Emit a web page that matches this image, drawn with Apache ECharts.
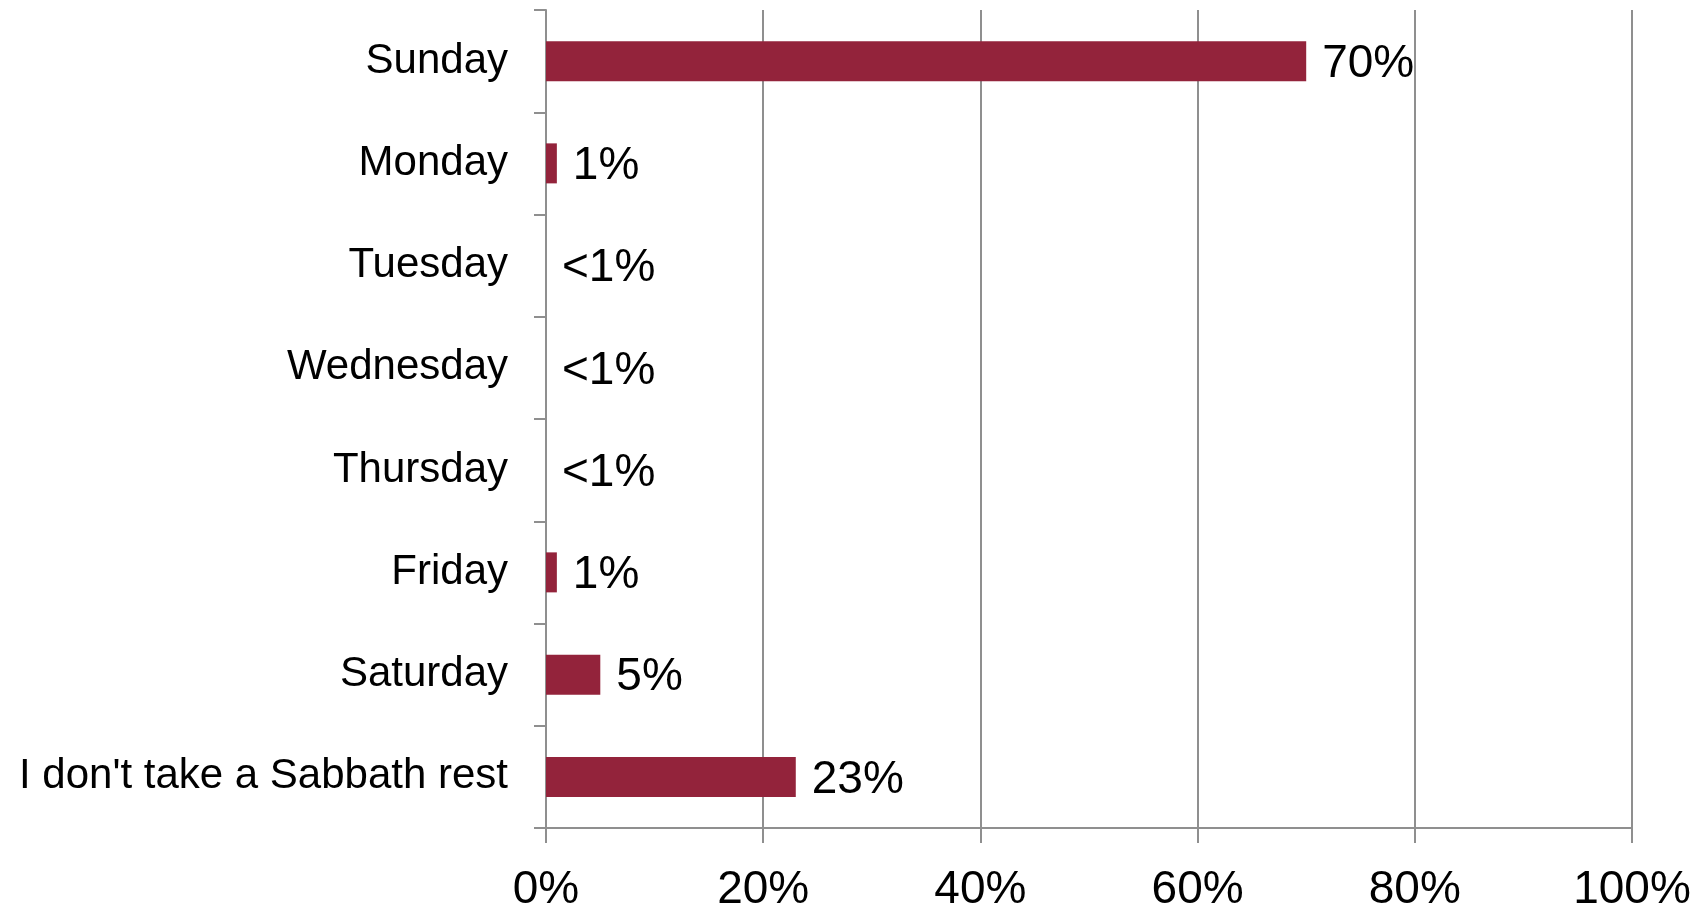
<!DOCTYPE html>
<html>
<head>
<meta charset="utf-8">
<style>
  html, body { margin: 0; padding: 0; background: #ffffff; }
  #chart { width: 1705px; height: 913px; }
</style>
<script src="https://cdn.jsdelivr.net/npm/echarts@6/dist/echarts.min.js"></script>
</head>
<body>
<div id="chart"></div>
<script>
// Which day people take as their Sabbath rest (share of respondents, %)
const categories = ['Sunday', 'Monday', 'Tuesday', 'Wednesday', 'Thursday', 'Friday', 'Saturday', "I don't take a Sabbath rest"];
const values = [70, 1, 0, 0, 0, 1, 5, 23];
const valueLabels = ['70%', '1%', '<1%', '<1%', '<1%', '1%', '5%', '23%'];
const xTicks = [0, 20, 40, 60, 80, 100];

const FONT = '"Liberation Sans", Arial, sans-serif';
const AXIS_GREY = '#8f8f8f';
const BAR_COLOR = '#93233b';

const chart = echarts.init(document.getElementById('chart'), null, { renderer: 'canvas' });

chart.setOption({
  backgroundColor: '#ffffff',
  animation: false,
  grid: { left: 546, right: 73, top: 10, bottom: 82, containLabel: false },
  xAxis: {
    type: 'value',
    min: xTicks[0],
    max: xTicks[xTicks.length - 1],
    interval: xTicks[1] - xTicks[0],
    axisLine: { show: true, lineStyle: { color: AXIS_GREY, width: 2 } },
    axisTick: { show: true, length: 15, lineStyle: { color: AXIS_GREY, width: 2 } },
    splitLine: { show: true, lineStyle: { color: AXIS_GREY, width: 2 } },
    axisLabel: {
      margin: 39,
      color: '#000000',
      fontFamily: FONT,
      fontSize: 46,
      formatter: v => v + '%'
    }
  },
  yAxis: {
    type: 'category',
    data: categories,
    inverse: true,
    axisLine: { show: true, lineStyle: { color: AXIS_GREY, width: 2 } },
    axisTick: { show: true, length: 12, alignWithLabel: false, lineStyle: { color: AXIS_GREY, width: 2 } },
    splitLine: { show: false },
    axisLabel: {
      margin: 38,
      color: '#000000',
      fontFamily: FONT,
      fontSize: 42
    }
  },
  series: [{
    type: 'bar',
    data: values,
    barWidth: 40,
    itemStyle: { color: BAR_COLOR },
    label: {
      show: true,
      position: 'right',
      distance: 16,
      offset: [0, 3],
      color: '#000000',
      fontFamily: FONT,
      fontSize: 46,
      formatter: p => valueLabels[p.dataIndex]
    }
  }]
});
</script>
</body>
</html>
